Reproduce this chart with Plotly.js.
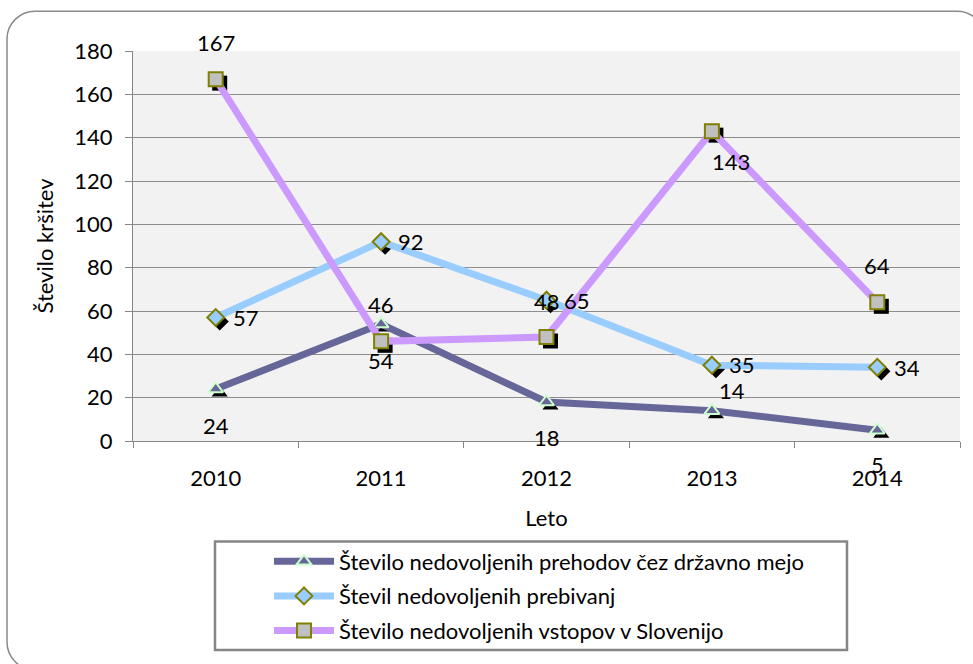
<!DOCTYPE html>
<html>
<head>
<meta charset="utf-8">
<script src="https://cdn.plot.ly/plotly-3.0.1.min.js"></script>
<style>html,body{margin:0;padding:0;background:#fff;}#chart{width:973px;height:664px;}</style>
</head>
<body>
<div id="chart"></div>
<script>
// ---- data ----
var years = ['2010', '2011', '2012', '2013', '2014'];
var seriesNames = [
  'Število nedovoljenih prehodov čez državno mejo',
  'Števil nedovoljenih prebivanj',
  'Število nedovoljenih vstopov v Slovenijo'
];
var prehodi = [24, 54, 18, 14, 5];
var prebivanja = [57, 92, 65, 35, 34];
var vstopi = [167, 46, 48, 143, 64];
var yTicks = [0, 20, 40, 60, 80, 100, 120, 140, 160, 180];

// ---- styles ----
var FONT = 'Lato, "Open Sans", sans-serif';
var FS = 22;
var W = 973, H = 664;
var M = {l: 133, r: 13, t: 51, b: 221};
var PW = W - M.l - M.r, PH = H - M.t - M.b;
function px2x(px) { return (px - M.l) / PW; }
function py2y(py) { return (H - M.b - py) / PH; }

// label offsets (pixels) per point
var off1 = {dx: [0, 0, 0, 20, 0], dy: [-36, -36, -35, 20, -34], anchor: 'center'};
var off2 = {dx: [15, 15, 15, 15, 15], dy: [0, 0, 0, 1, 0], anchor: 'left'};
var off3 = {dx: [0, 0, 0, 19, 0], dy: [37, 37, 36, -30, 37], anchor: 'center'};

var colors = ['#666699', '#99CCFF', '#CC99FF'];
var series = [prehodi, prebivanja, vstopi];
var markers = [
  {symbol: 'triangle-up', size: 13, color: '#666699', line: {color: '#CCFFCC', width: 2}},
  {symbol: 'diamond', size: 13, color: '#99CCFF', line: {color: '#808000', width: 2}},
  {symbol: 'square', size: 14, color: '#C0C0C0', line: {color: '#808000', width: 2}}
];
var shadowSymbols = ['triangle-up', 'diamond', 'square'];

var traces = [];
// invisible anchor trace so the visible base axes exist
traces.push({
  x: years, y: prehodi, xaxis: 'x', yaxis: 'y', type: 'scatter', mode: 'markers',
  marker: {opacity: 0, size: 1}, showlegend: false, hoverinfo: 'skip'
});
// shadows (on shifted hidden axes)
for (var i = 0; i < 3; i++) {
  traces.push({
    x: years, y: series[i], xaxis: 'x2', yaxis: 'y2', type: 'scatter', mode: 'markers',
    marker: {symbol: shadowSymbols[i], size: markers[i].size + 1, color: '#000000'},
    showlegend: false, hoverinfo: 'skip'
  });
}
// main series
for (var j = 0; j < 3; j++) {
  traces.push({
    x: years, y: series[j], xaxis: 'x3', yaxis: 'y3', type: 'scatter', mode: 'lines+markers',
    name: seriesNames[j], legendgroup: 'g' + j,
    line: {color: colors[j], width: 7},
    marker: markers[j]
  });
}

var annotations = [];
var offs = [off1, off2, off3];
for (var s = 0; s < 3; s++) {
  for (var k = 0; k < years.length; k++) {
    annotations.push({
      x: k, y: series[s][k], xref: 'x', yref: 'y',
      text: String(series[s][k]), showarrow: false,
      xanchor: offs[s].anchor, yanchor: 'middle',
      xshift: offs[s].dx[k], yshift: offs[s].dy[k],
      font: {family: FONT, size: FS, color: '#000'}
    });
  }
}

// outer rounded border (pixel -> paper)
function roundRectPath(x0, y0, x1, y1, r) {
  var k = 0.5523 * r;
  function P(px, py) { return px2x(px).toFixed(5) + ',' + py2y(py).toFixed(5); }
  return 'M' + P(x0 + r, y0) +
    ' L' + P(x1 - r, y0) +
    ' C' + P(x1 - r + k, y0) + ' ' + P(x1, y0 + r - k) + ' ' + P(x1, y0 + r) +
    ' L' + P(x1, y1 - r) +
    ' C' + P(x1, y1 - r + k) + ' ' + P(x1 - r + k, y1) + ' ' + P(x1 - r, y1) +
    ' L' + P(x0 + r, y1) +
    ' C' + P(x0 + r - k, y1) + ' ' + P(x0, y1 - r + k) + ' ' + P(x0, y1 - r) +
    ' L' + P(x0, y0 + r) +
    ' C' + P(x0, y0 + r - k) + ' ' + P(x0 + r - k, y0) + ' ' + P(x0 + r, y0) + ' Z';
}

var shapes = [
  {type: 'path', xref: 'paper', yref: 'paper', path: roundRectPath(7, 11, 985, 673, 28),
   line: {color: '#8a8a8a', width: 1.5}, fillcolor: 'rgba(0,0,0,0)'},
  {type: 'rect', xref: 'paper', yref: 'paper',
   x0: px2x(215), x1: px2x(847), y0: py2y(653), y1: py2y(544),
   line: {color: '#868686', width: 2.5}, fillcolor: 'rgba(0,0,0,0)'}
];

var dx = 4 * 5 / PW, dy = 4 * 180 / PH;

var layout = {
  width: W, height: H,
  margin: M,
  paper_bgcolor: '#ffffff',
  plot_bgcolor: '#F2F2F2',
  font: {family: FONT, size: FS, color: '#000'},
  showlegend: true,
  legend: {
    x: px2x(269), y: py2y(543), xanchor: 'left', yanchor: 'top',
    bgcolor: 'rgba(0,0,0,0)', borderwidth: 0,
    font: {family: FONT, size: FS, color: '#000'},
    itemwidth: 60, itemsizing: 'trace', traceorder: 'grouped', tracegroupgap: 3
  },
  xaxis: {
    type: 'category', categoryorder: 'array', categoryarray: years,
    range: [-0.5, 4.5], showgrid: false, zeroline: false,
    showline: true, linecolor: '#868686', linewidth: 1,
    ticks: 'outside', tickson: 'boundaries', ticklen: 6, tickcolor: '#868686',
    ticklabelstandoff: 18,
    tickfont: {family: FONT, size: FS, color: '#000'},
    title: {text: 'Leto', font: {family: FONT, size: FS, color: '#000'}, standoff: 20},
    fixedrange: true
  },
  yaxis: {
    range: [0, 180], tickvals: yTicks, ticktext: yTicks.map(String),
    showgrid: true, gridcolor: '#8c8c8c', gridwidth: 1, zeroline: false,
    showline: true, linecolor: '#868686', linewidth: 1,
    ticks: 'outside', ticklen: 7, tickcolor: '#868686',
    ticklabelstandoff: 8,
    tickfont: {family: FONT, size: FS, color: '#000'},
    title: {text: 'Število kršitev', font: {family: FONT, size: FS, color: '#000'}, standoff: 14},
    fixedrange: true
  },
  xaxis2: {overlaying: 'x', type: 'category', categoryorder: 'array', categoryarray: years,
           range: [-0.5 - dx, 4.5 - dx], visible: false, fixedrange: true},
  yaxis2: {overlaying: 'y', range: [0 + dy, 180 + dy], visible: false, fixedrange: true},
  xaxis3: {overlaying: 'x', type: 'category', categoryorder: 'array', categoryarray: years,
           range: [-0.5, 4.5], visible: false, fixedrange: true},
  yaxis3: {overlaying: 'y', range: [0, 180], visible: false, fixedrange: true},
  annotations: annotations,
  shapes: shapes
};

Plotly.newPlot('chart', traces, layout, {displayModeBar: false, staticPlot: true});
</script>
</body>
</html>
